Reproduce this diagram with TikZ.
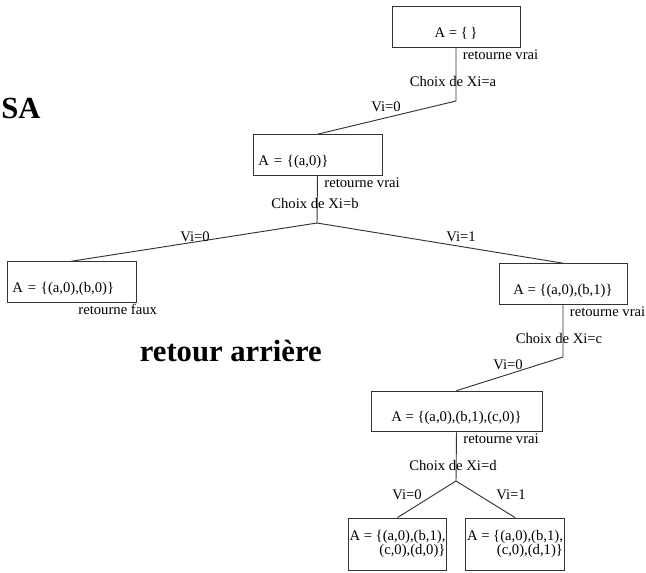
\documentclass[tikz,border=0pt]{standalone}
\usepackage{fontspec}
\setmainfont{Liberation Serif}
\usetikzlibrary{positioning}

\begin{document}
\begin{tikzpicture}[
    x=0.75pt, y=-0.75pt,
    statebox/.style={draw=black!80, line width=0.7pt, inner xsep=4pt, inner ysep=0pt,
        text height=23pt, text depth=7.5pt, font=\fontsize{11}{13}\selectfont},
    leafbox/.style={draw=black!80, line width=0.7pt, inner xsep=1pt, align=right,
        minimum width=73.5pt, minimum height=39pt, font=\fontsize{11}{10.5}\selectfont},
    small/.style={inner sep=0pt, font=\fontsize{11}{13}\selectfont},
    ret/.style={small, anchor=north west, xshift=5pt, yshift=-1pt},
    big/.style={inner sep=0pt, font=\fontsize{23}{26}\selectfont\bfseries},
    edge/.style={draw=black!80, line width=0.7pt}
]
\useasboundingbox (0,0) rectangle (646,572);

% Titles
\node[big, anchor=base west] (title) at (1,118) {SA};
\node[big, anchor=base east] (back) at (322,361) {retour arrière};

% States
\node[statebox, minimum width=96pt] (s0) at (456,27) {A = \{\,\}};
\node[statebox, text width=88.75pt, align=left] (s1) at (317.5,155) {A = \{(a,0)\}};
\node[statebox, text width=88.75pt, align=left] (s2) at (71.5,282) {A = \{(a,0),(b,0)\}};
\node[statebox, minimum width=96pt] (s3) at (563,284) {A = \{(a,0),(b,1)\}};
\node[statebox, minimum width=128.25pt] (s4) at (456.5,411.5) {A = \{(a,0),(b,1),(c,0)\}};
\node[leafbox] (s5) at (397.5,544) {A = \{(a,0),(b,1),\\(c,0),(d,0)\}};
\node[leafbox] (s6) at (515,544) {A = \{(a,0),(b,1),\\(c,0),(d,1)\}};

% Junctions
\coordinate (j0) at (456,101);
\coordinate (j1) at (317,223);
\coordinate (j3) at (563,357);
\coordinate (j4) at (456,481);

% Connections
\draw[edge] (s0.south) -- (j0) -- (s1.north);
\draw[edge] (s1.south) -- (j1);
\draw[edge] (j1) -- (s2.north);
\draw[edge] (j1) -- (s3.north);
\draw[edge] (s3.south) -- (j3) -- (s4.north);
\draw[edge] (s4.south) -- (j4);
\draw[edge] (j4) -- (s5.north);
\draw[edge] (j4) -- (s6.north);

% Results
\node[ret] (r0) at (s0.south) {retourne vrai};
\node[ret] (r1) at (s1.south) {retourne vrai};
\node[ret] (r2) at (s2.south) {retourne faux};
\node[ret] (r3) at (s3.south) {retourne vrai};
\node[ret] (r4) at (s4.south) {retourne vrai};

% Choices
\node[small] (c0) at (453,81) {Choix de Xi=a};
\node[small] (c1) at (315,203) {Choix de Xi=b};
\node[small] (c3) at (559,338) {Choix de Xi=c};
\node[small] (c4) at (453,465) {Choix de Xi=d};

% Values
\node[small] (v0) at (386,107) {Vi=0};
\node[small] (v1) at (195,237) {Vi=0};
\node[small] (v2) at (461,237) {Vi=1};
\node[small] (v3) at (508,365) {Vi=0};
\node[small] (v4) at (407,495) {Vi=0};
\node[small] (v5) at (511,495) {Vi=1};

\end{tikzpicture}
\end{document}
